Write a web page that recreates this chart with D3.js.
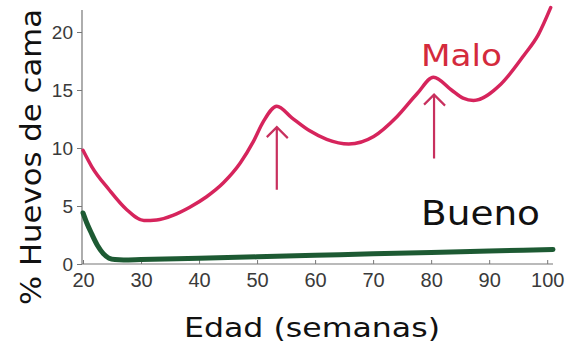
<!DOCTYPE html>
<html><head><meta charset="utf-8">
<script src="https://cdn.jsdelivr.net/npm/d3@7"></script>
<style>body{margin:0;background:#fff}svg{display:block}</style>
</head><body>
<svg id="c" width="565" height="344"></svg>
<script>
// Data
const maloAge = [20,21.5,24.5,27.5,30.5,32.7,35.5,38.4,41.3,44.2,47.1,49.3,51.1,53.4,56,59,62,65.8,70.1,74.1,77.6,80.4,83.5,85.5,87.3,92,96,98.5,100.6];
const maloVal = [9.8,8.4,6.4,4.7,3.75,3.8,4.2,4.9,5.8,7.0,8.7,10.5,12.3,13.6,12.6,11.5,10.75,10.35,11.0,12.7,14.7,16.1,15.0,14.3,14.1,15.5,18.0,19.8,22.1];
const buenoAge = [20,20.6,21.5,22.5,23.5,24.5,25.5,27,30,40,50,60,70,80,90,101];
const buenoVal = [4.4,3.6,2.6,1.6,0.9,0.5,0.38,0.35,0.38,0.5,0.62,0.75,0.88,1.0,1.12,1.25];
const arrowAge = [53.4, 80.5];
const arrowTip = [11.8, 14.6];
const arrowBase = [6.4, 9.1];
const xTicks = [20,30,40,50,60,70,80,90,100];
const yTicks = [0,5,10,15,20];
const labels = ["Malo","Bueno"];

const svg = d3.select("#c");
const x = d3.scaleLinear().domain([20,101]).range([83,553]);
const y = d3.scaleLinear().domain([0,22]).range([264,8.8]);

// axes
const yAxis = svg.append("g").attr("transform","translate(82,0)")
  .call(d3.axisLeft(y).tickValues(yTicks).tickSize(5).tickPadding(4));
yAxis.select(".domain").attr("d","M0,"+y(0)+"V10");
const xAxis = svg.append("g").attr("transform","translate(0,264)")
  .call(d3.axisBottom(x).tickValues(xTicks).tickSizeInner(-4).tickSizeOuter(0).tickPadding(8));
xAxis.select(".domain").attr("d","M82,0H553");
[yAxis,xAxis].forEach(g=>{
  g.selectAll(".domain").attr("stroke","#777").attr("stroke-width",1.2);
  g.selectAll(".tick line").attr("stroke","#777");
  g.selectAll("text").attr("fill","#3a3a3a").attr("font-family","'Liberation Sans',Arial,sans-serif");
});
yAxis.selectAll("text").attr("font-size",19);
xAxis.selectAll("text").attr("font-size",20).attr("dy","0.75em");

// lines
const line = d3.line().curve(d3.curveMonotoneX);
svg.append("path").attr("d", line(maloAge.map((a,i)=>[x(a),y(maloVal[i])])))
  .attr("fill","none").attr("stroke","#d6245c").attr("stroke-width",3.5).attr("stroke-linecap","round");
svg.append("path").attr("d", line(buenoAge.map((a,i)=>[x(a),y(buenoVal[i])])))
  .attr("fill","none").attr("stroke","#1d5a33").attr("stroke-width",5).attr("stroke-linecap","round");

// arrows
arrowAge.forEach((a,i)=>{
  const ax=x(a), t=y(arrowTip[i]), b=y(arrowBase[i]);
  svg.append("path").attr("d",`M${ax},${b}V${t}M${ax-10},${t+10}L${ax},${t}L${ax+11},${t+11}`)
    .attr("fill","none").attr("stroke","#c8305e").attr("stroke-width",2.2);
});

// labels
const F = "'DejaVu Sans',sans-serif";
svg.append("text").attr("x",421).attr("y",66).text(labels[0])
  .attr("font-family",F).attr("font-size",30).attr("fill","#d42a3c")
  .attr("textLength",81).attr("lengthAdjust","spacingAndGlyphs");
svg.append("text").attr("x",421).attr("y",225).text(labels[1])
  .attr("font-family",F).attr("font-size",33).attr("fill","#111")
  .attr("textLength",119).attr("lengthAdjust","spacingAndGlyphs");

// axis titles
svg.append("text").attr("x",312).attr("y",337).attr("text-anchor","middle").text("Edad (semanas)")
  .attr("font-family",F).attr("font-size",27).attr("fill","#111")
  .attr("textLength",256).attr("lengthAdjust","spacingAndGlyphs");
svg.append("text").attr("transform","translate(41,157) rotate(-90)").attr("text-anchor","middle").text("% Huevos de cama")
  .attr("font-family",F).attr("font-size",28).attr("fill","#111")
  .attr("textLength",296).attr("lengthAdjust","spacingAndGlyphs");
</script>
</body></html>
